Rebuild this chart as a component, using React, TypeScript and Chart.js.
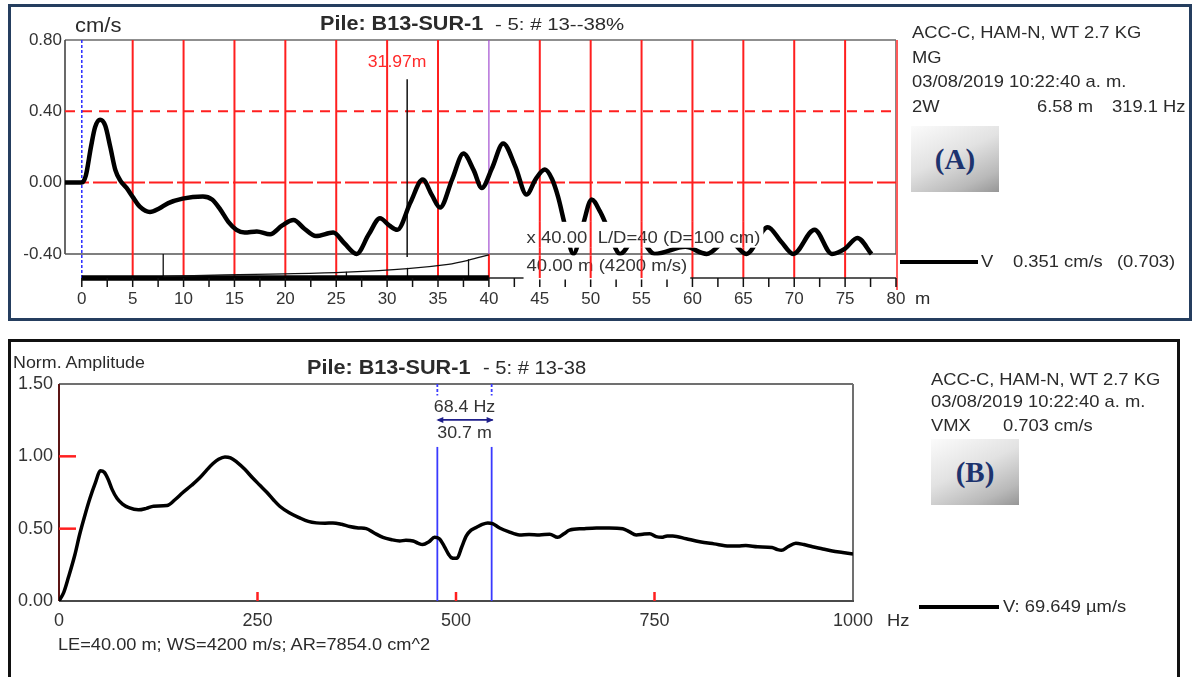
import React, { useEffect, useRef } from 'react';
import { Chart, registerables } from 'chart.js';

Chart.register(...registerables);

const FONT = '"Liberation Sans", Arial, Helvetica, sans-serif';
Chart.defaults.font.family = FONT;

// ---------- Panel A : velocity trace vs depth ----------
const velDepth = [
  -1.65, 0, 0.4, 0.9, 1.3, 1.8, 2.3, 2.8, 3.3, 3.8, 4.4, 5.0, 5.7, 6.7, 7.6, 8.5, 9.9, 11.9, 12.8, 13.6,
  14.4, 15.2, 16.0, 17.2, 18.5, 19.7, 20.8, 21.9, 23.0, 24.7, 25.8, 27.0, 28.2, 29.3, 30.2, 31.0, 32.3,
  33.5, 34.4, 35.2, 36.4, 37.5, 38.5, 39.3, 40.3, 41.4, 42.6, 43.7, 44.6, 45.5, 46.2, 46.8, 47.5, 48.3,
  49.2, 50.1, 50.9, 51.6, 52.9, 54.5, 56.3, 59.3, 61.4, 63.5, 65.3, 67.4, 68.7, 69.9, 72.0, 73.7, 75.0,
  76.2, 77.6,
];
const velValue = [
  0, 0, 0.04, 0.2, 0.31, 0.353, 0.32, 0.2, 0.07, 0.01, -0.03, -0.08, -0.135, -0.165, -0.145, -0.115, -0.09,
  -0.078, -0.095, -0.15, -0.22, -0.265, -0.28, -0.274, -0.29, -0.24, -0.21, -0.26, -0.3, -0.28, -0.34, -0.4,
  -0.29, -0.2, -0.24, -0.265, -0.11, 0.017, -0.07, -0.14, 0.02, 0.163, 0.07, -0.03, 0.08, 0.22, 0.09, -0.067,
  0.02, 0.073, 0.02, -0.08, -0.245, -0.4, -0.245, -0.095, -0.16, -0.245, -0.4, -0.3, -0.4, -0.36, -0.4,
  -0.32, -0.4, -0.25, -0.33, -0.4, -0.264, -0.4, -0.37, -0.31, -0.4,
];
// pile profile drawn in the strip under the trace
const profileDepth = [8, 14, 20, 26, 32, 36, 38, 40];
const profileValue = [-0.527, -0.518, -0.512, -0.502, -0.482, -0.458, -0.435, -0.405];
const stripMarkDepth = [8, 26, 32, 38];
const stripMarkTop = [-0.4, -0.5, -0.478, -0.43];
const stripMarkBottom = [-0.527, -0.527, -0.527, -0.527];
const xTicksA = [0, 5, 10, 15, 20, 25, 30, 35, 40, 45, 50, 55, 60, 65, 70, 75, 80];
const yTicksA = [-0.4, 0, 0.4, 0.8];
const gridDepthA = [5, 10, 15, 20, 25, 30, 35, 40, 45, 50, 55, 60, 65, 70, 75, 80];
const minorTickDepth = [0, 2.5, 5, 7.5, 10, 12.5, 15, 17.5, 20, 22.5, 25, 27.5, 30, 32.5, 35, 37.5, 40, 42.5, 45, 47.5, 50, 52.5, 55, 57.5, 60, 62.5, 65, 67.5, 70, 72.5, 75, 77.5, 80];
const refLevelsA = [0.4, 0];
const markerDepth = 31.97;
const pileLength = 40;
const xMaxA = 80;

// ---------- Panel B : mobility spectrum ----------
const freqHz = [
  0, 6, 11.7, 20, 26, 33, 39, 46, 52, 57, 62, 67, 73, 80, 88, 100, 110, 119, 136, 146, 156, 167, 177, 186,
  194, 201, 209, 216, 224, 234, 244, 253, 262, 270, 278, 290, 303, 314, 324, 335, 345, 356, 366, 377, 387,
  397, 408, 418, 429, 437, 446, 452, 458, 466, 473, 479, 485, 491, 494, 499, 502, 507, 513, 519, 526, 533,
  540, 546, 555, 566, 580, 592, 605, 618, 628, 636, 643, 660, 677, 693, 710, 718, 727, 737, 744, 752, 759,
  766, 773, 790, 807, 825, 844, 855, 865, 880, 898, 905, 910, 918, 928, 938, 949, 962, 974, 987, 1000,
];
const normAmp = [
  0, 0.06, 0.16, 0.32, 0.46, 0.6, 0.71, 0.82, 0.9, 0.89, 0.84, 0.77, 0.71, 0.67, 0.645, 0.63, 0.64, 0.655,
  0.66, 0.7, 0.75, 0.8, 0.85, 0.905, 0.95, 0.98, 0.996, 0.99, 0.96, 0.91, 0.85, 0.8, 0.75, 0.7, 0.655, 0.61,
  0.575, 0.55, 0.54, 0.538, 0.54, 0.53, 0.515, 0.505, 0.5, 0.47, 0.44, 0.425, 0.415, 0.42, 0.415, 0.4, 0.39,
  0.41, 0.44, 0.43, 0.38, 0.32, 0.3, 0.295, 0.3, 0.37, 0.45, 0.49, 0.51, 0.53, 0.54, 0.535, 0.505, 0.48,
  0.457, 0.46, 0.457, 0.462, 0.44, 0.465, 0.49, 0.5, 0.505, 0.505, 0.5, 0.48, 0.457, 0.463, 0.465, 0.445,
  0.44, 0.45, 0.45, 0.43, 0.41, 0.395, 0.38, 0.38, 0.383, 0.375, 0.37, 0.355, 0.35, 0.375, 0.4, 0.39, 0.375,
  0.36, 0.345, 0.335, 0.325,
];
const xTicksB = [0, 250, 500, 750, 1000];
const yTicksB = [0, 0.5, 1, 1.5];
const redTickFreq = [250, 500, 750];
const redTickAmp = [0.5, 1];
const freqMarkers = [476.5, 544.9];

function canvasText(ctx: any, text: string, x: number, y: number, size: number, color: string, align = 'left', sx = 1) {
  ctx.save();
  ctx.font = `${size}px ${FONT}`;
  ctx.fillStyle = color;
  ctx.textBaseline = 'middle';
  ctx.textAlign = align;
  ctx.translate(x, y);
  ctx.scale(sx, 1);
  ctx.fillText(text, 0, 0);
  ctx.restore();
}

function vline(ctx: any, x: number, y1: number, y2: number, color: string, w: number, dash: number[] = []) {
  ctx.save();
  ctx.strokeStyle = color;
  ctx.lineWidth = w;
  ctx.setLineDash(dash);
  ctx.beginPath();
  ctx.moveTo(x, y1);
  ctx.lineTo(x, y2);
  ctx.stroke();
  ctx.restore();
}
function hline(ctx: any, x1: number, x2: number, y: number, color: string, w: number, dash: number[] = []) {
  ctx.save();
  ctx.strokeStyle = color;
  ctx.lineWidth = w;
  ctx.setLineDash(dash);
  ctx.beginPath();
  ctx.moveTo(x1, y);
  ctx.lineTo(x2, y);
  ctx.stroke();
  ctx.restore();
}

const RED = '#ff1f1f';

function drawRedGridA(chart: any) {
  const { ctx, chartArea: a, scales } = chart;
  const px = (v: number) => scales.x.getPixelForValue(v);
  const py = (v: number) => scales.y.getPixelForValue(v);
  gridDepthA.forEach((d) => {
    const X = px(d);
    if (d === pileLength) {
      vline(ctx, X, a.top, py(-0.4), '#a34fd0', 1.2);
      vline(ctx, X, py(-0.4), a.bottom, RED, 2);
    } else if (d === xMaxA) {
      vline(ctx, X + 1, a.top, a.bottom + 12, '#ff5a5a', 2);
    } else {
      vline(ctx, X, a.top, a.bottom, RED, 2);
    }
  });
}

const decorA = {
  id: 'decorA',
  beforeDatasetsDraw(chart: any) {
    const { ctx, chartArea: a, scales } = chart;
    const px = (v: number) => scales.x.getPixelForValue(v);
    const py = (v: number) => scales.y.getPixelForValue(v);
    const yBot = py(-0.4);
    // frame
    hline(ctx, a.left, a.right, a.top, '#6a6a6a', 1.6);
    vline(ctx, a.left, a.top, yBot, '#444', 1.6);
    vline(ctx, a.right, a.top, yBot, '#6a6a6a', 1.6);
    hline(ctx, a.left, a.right, yBot, '#555', 1.6);
    // red reference levels
    hline(ctx, a.left, a.right, py(refLevelsA[0]), RED, 2, [10, 7]);
    hline(ctx, a.left, a.right, py(refLevelsA[1]), RED, 2, [24, 4]);
    drawRedGridA(chart);
    // blue zero line
    vline(ctx, px(0), a.top, a.bottom, '#2b2bff', 1.5, [3, 2]);
    // marker line
    vline(ctx, px(markerDepth), py(0.58), yBot + 3, '#111', 1.5);
    canvasText(ctx, `${markerDepth}m`, px(markerDepth) - 10, py(0.676), 16, '#ff2a2a', 'center', 1.1);
    // strip marks
    stripMarkDepth.forEach((d, i) => vline(ctx, px(d), py(stripMarkTop[i]), py(stripMarkBottom[i]), '#111', 1.3));
    // axis: thick pile bar + thin line + ticks
    hline(ctx, px(0), px(pileLength), a.bottom, '#000', 5.5);
    hline(ctx, px(pileLength), px(xMaxA), a.bottom, '#222', 1.6);
    minorTickDepth.forEach((d) => vline(ctx, px(d), a.bottom, a.bottom + 9, '#111', 1.5));
  },
  afterDatasetsDraw(chart: any) {
    const { ctx, chartArea: a, scales } = chart;
    const px = (v: number) => scales.x.getPixelForValue(v);
    const py = (v: number) => scales.y.getPixelForValue(v);
    const boxes = [
      { text: 'x 40.00  L/D=40 (D=100 cm)', x: px(43.7), y: py(-0.31), top: py(-0.22), bot: py(-0.365) },
      { text: '40.00 m (4200 m/s)', x: px(43.7), y: py(-0.468), top: py(-0.4) + 1.5, bot: a.bottom + 1.5 },
    ];
    ctx.save();
    ctx.font = `17px ${FONT}`;
    boxes.forEach((b) => {
      const w = ctx.measureText(b.text).width * 1.09;
      ctx.fillStyle = '#fff';
      ctx.fillRect(b.x - 3, b.top, w + 6, b.bot - b.top);
      canvasText(ctx, b.text, b.x, b.y, 17, '#333', 'left', 1.09);
      ctx.save();
      ctx.beginPath();
      ctx.rect(b.x - 3, b.top, w + 6, b.bot - b.top);
      ctx.clip();
      drawRedGridA(chart);
      ctx.restore();
    });
    ctx.restore();
  },
};

const decorB = {
  id: 'decorB',
  beforeDatasetsDraw(chart: any) {
    const { ctx, chartArea: a, scales } = chart;
    const px = (v: number) => scales.x.getPixelForValue(v);
    const py = (v: number) => scales.y.getPixelForValue(v);
    hline(ctx, a.left, a.right, a.top, '#707070', 2);
    vline(ctx, a.right, a.top, a.bottom, '#707070', 2);
    hline(ctx, a.left, a.right + 1, a.bottom, '#4a4a4a', 2);
    vline(ctx, a.left, a.top, a.bottom, '#5c1515', 2);
    redTickAmp.forEach((v) => hline(ctx, a.left, a.left + 17, py(v), RED, 2.5));
    redTickFreq.forEach((f) => vline(ctx, px(f), a.bottom - 9, a.bottom, RED, 2.5));
    freqMarkers.forEach((f) => {
      vline(ctx, px(f), a.top, py(1.42), '#3a3aff', 1.8, [3, 2]);
      vline(ctx, px(f), py(1.065), a.bottom, '#3a3aff', 1.8);
    });
    const x1 = px(freqMarkers[0]);
    const x2 = px(freqMarkers[1]);
    const mid = (x1 + x2) / 2;
    const diff = (freqMarkers[1] - freqMarkers[0]).toFixed(1);
    canvasText(ctx, `${diff} Hz`, mid, py(1.342), 17, '#333', 'center', 1.05);
    canvasText(ctx, '30.7 m', mid, py(1.162), 17, '#333', 'center', 1.05);
    const ay = py(1.252);
    hline(ctx, x1 + 1, x2 + 1, ay, '#1e1e8a', 1.6);
    ctx.save();
    ctx.fillStyle = '#1e1e8a';
    ctx.beginPath();
    ctx.moveTo(x1 - 1, ay);
    ctx.lineTo(x1 + 6, ay - 3);
    ctx.lineTo(x1 + 6, ay + 3);
    ctx.closePath();
    ctx.fill();
    ctx.beginPath();
    ctx.moveTo(x2 + 2, ay);
    ctx.lineTo(x2 - 5, ay - 3);
    ctx.lineTo(x2 - 5, ay + 3);
    ctx.closePath();
    ctx.fill();
    ctx.restore();
  },
};

function T(props: { x: number; base: number; size: number; bold?: boolean; sx?: number; color?: string; children: any }) {
  const { x, base, size, bold, sx = 1, color = '#2b2b2b', children } = props;
  return (
    <div
      style={{
        position: 'absolute',
        left: x,
        top: base - 0.8465 * size,
        fontSize: size,
        lineHeight: `${size}px`,
        fontFamily: FONT,
        fontWeight: bold ? 700 : 400,
        color,
        whiteSpace: 'pre',
        transform: `scaleX(${sx})`,
        transformOrigin: 'left center',
      }}
    >
      {children}
    </div>
  );
}

function Badge(props: { x: number; y: number; label: string }) {
  return (
    <div
      style={{
        position: 'absolute',
        left: props.x,
        top: props.y,
        width: 88,
        height: 66,
        background: 'linear-gradient(155deg, #fbfbfb 0%, #e2e2e2 45%, #b9b9b9 80%, #969696 100%)',
        display: 'flex',
        alignItems: 'center',
        justifyContent: 'center',
        fontFamily: '"Liberation Serif", "Times New Roman", serif',
        fontWeight: 700,
        fontSize: 29,
        color: '#1d336e',
      }}
    >
      {props.label}
    </div>
  );
}

export default function App() {
  const refA = useRef<HTMLCanvasElement>(null);
  const refB = useRef<HTMLCanvasElement>(null);

  useEffect(() => {
    const chartA = new Chart(refA.current as HTMLCanvasElement, {
      type: 'line',
      data: {
        datasets: [
          {
            data: velDepth.map((d, i) => ({ x: d, y: velValue[i] })),
            borderColor: '#000',
            borderWidth: 4.5,
            pointRadius: 0,
            cubicInterpolationMode: 'monotone',
            fill: false,
          },
          {
            data: profileDepth.map((d, i) => ({ x: d, y: profileValue[i] })),
            borderColor: '#111',
            borderWidth: 1.3,
            pointRadius: 0,
            tension: 0.35,
            fill: false,
          },
        ],
      },
      options: {
        animation: false,
        responsive: false,
        events: [],
        layout: { padding: { top: 40, right: 298, left: 0, bottom: 0 } },
        plugins: { legend: { display: false }, tooltip: { enabled: false }, title: { display: false } },
        scales: {
          x: {
            type: 'linear',
            min: -1.65,
            max: xMaxA,
            grid: { display: false, drawTicks: false },
            border: { display: false },
            ticks: { padding: 11, font: { size: 17 }, color: '#333', maxRotation: 0, autoSkip: false, callback: (v: any) => String(v) },
            afterBuildTicks: (s: any) => {
              s.ticks = xTicksA.map((v) => ({ value: v }));
            },
            afterFit: (s: any) => {
              s.height = 47;
            },
          },
          y: {
            type: 'linear',
            min: -0.535,
            max: 0.8,
            grid: { display: false, drawTicks: false },
            border: { display: false },
            ticks: { padding: 3, font: { size: 17 }, color: '#333', callback: (v: any) => Number(v).toFixed(2) },
            afterBuildTicks: (s: any) => {
              s.ticks = yTicksA.map((v) => ({ value: v }));
            },
            afterFit: (s: any) => {
              s.width = 65;
            },
          },
        },
      } as any,
      plugins: [decorA],
    });

    const chartB = new Chart(refB.current as HTMLCanvasElement, {
      type: 'line',
      data: {
        datasets: [
          {
            data: freqHz.map((f, i) => ({ x: f, y: normAmp[i] })),
            borderColor: '#000',
            borderWidth: 3.5,
            pointRadius: 0,
            cubicInterpolationMode: 'monotone',
            fill: false,
          },
        ],
      },
      options: {
        animation: false,
        responsive: false,
        events: [],
        layout: { padding: { top: 49, right: 341, left: 0, bottom: 0 } },
        plugins: { legend: { display: false }, tooltip: { enabled: false }, title: { display: false } },
        scales: {
          x: {
            type: 'linear',
            min: 0,
            max: 1000,
            grid: { display: false, drawTicks: false },
            border: { display: false },
            ticks: { padding: 9, font: { size: 18 }, color: '#333', maxRotation: 0, autoSkip: false, callback: (v: any) => String(v) },
            afterBuildTicks: (s: any) => {
              s.ticks = xTicksB.map((v) => ({ value: v }));
            },
            afterFit: (s: any) => {
              s.height = 76;
            },
          },
          y: {
            type: 'linear',
            min: 0,
            max: 1.5,
            grid: { display: false, drawTicks: false },
            border: { display: false },
            ticks: { padding: 6, font: { size: 18 }, color: '#333', callback: (v: any) => Number(v).toFixed(2) },
            afterBuildTicks: (s: any) => {
              s.ticks = yTicksB.map((v) => ({ value: v }));
            },
            afterFit: (s: any) => {
              s.width = 59;
            },
          },
        },
      } as any,
      plugins: [decorB],
    });

    return () => {
      chartA.destroy();
      chartB.destroy();
    };
  }, []);

  return (
    <div style={{ position: 'absolute', left: 0, top: 0, width: 1194, height: 677, overflow: 'hidden', background: '#fff' }}>
      <div style={{ position: 'absolute', left: 8, top: 4, width: 1184, height: 317, border: '3px solid #253e5f', boxSizing: 'border-box' }} />
      <div style={{ position: 'absolute', left: 8, top: 339, width: 1172, height: 400, border: '3px solid #111', boxSizing: 'border-box' }} />

      <canvas ref={refA} width={1194} height={325} style={{ position: 'absolute', left: 0, top: 0, width: 1194, height: 325 }} />
      <canvas ref={refB} width={1194} height={342} style={{ position: 'absolute', left: 0, top: 335, width: 1194, height: 342 }} />

      {/* Panel A texts */}
      <T x={75} base={32} size={20} sx={1.1}>cm/s</T>
      <T x={320} base={30} size={20} bold sx={1.08}>Pile: B13-SUR-1</T>
      <T x={495} base={30} size={17} sx={1.2}>- 5: # 13--38%</T>
      <T x={912} base={38.5} size={17} sx={1.08}>ACC-C, HAM-N, WT 2.7 KG</T>
      <T x={912} base={63} size={17} sx={1.08}>MG</T>
      <T x={912} base={87} size={17} sx={1.08}>03/08/2019 10:22:40 a. m.</T>
      <T x={912} base={112} size={17} sx={1.08}>2W</T>
      <T x={1037} base={112} size={17} sx={1.08}>6.58 m</T>
      <T x={1112} base={112} size={17} sx={1.08}>319.1 Hz</T>
      <Badge x={911} y={126} label="(A)" />
      <div style={{ position: 'absolute', left: 900, top: 260, width: 78, height: 4, background: '#000' }} />
      <T x={981} base={267} size={17} sx={1.08}>V</T>
      <T x={1013} base={267} size={17} sx={1.08}>0.351 cm/s</T>
      <T x={1117} base={267} size={17} sx={1.08}>(0.703)</T>
      <T x={915} base={304} size={17} sx={1.08}>m</T>

      {/* Panel B texts */}
      <T x={13} base={368} size={17} sx={1.05}>Norm. Amplitude</T>
      <T x={307} base={374} size={21} bold sx={1.03}>Pile: B13-SUR-1</T>
      <T x={483} base={374} size={18} sx={1.12}>- 5: # 13-38</T>
      <T x={931} base={385} size={17} sx={1.08}>ACC-C, HAM-N, WT 2.7 KG</T>
      <T x={931} base={407} size={17} sx={1.08}>03/08/2019 10:22:40 a. m.</T>
      <T x={931} base={431} size={17} sx={1.08}>VMX</T>
      <T x={1003} base={431} size={17} sx={1.08}>0.703 cm/s</T>
      <Badge x={931} y={439} label="(B)" />
      <div style={{ position: 'absolute', left: 919, top: 605, width: 80, height: 4, background: '#000' }} />
      <T x={1003} base={612} size={17} sx={1.08}>V: 69.649 µm/s</T>
      <T x={887} base={626} size={17} sx={1.08}>Hz</T>
      <T x={58} base={650} size={17} sx={1.07}>LE=40.00 m; WS=4200 m/s; AR=7854.0 cm^2</T>
    </div>
  );
}
